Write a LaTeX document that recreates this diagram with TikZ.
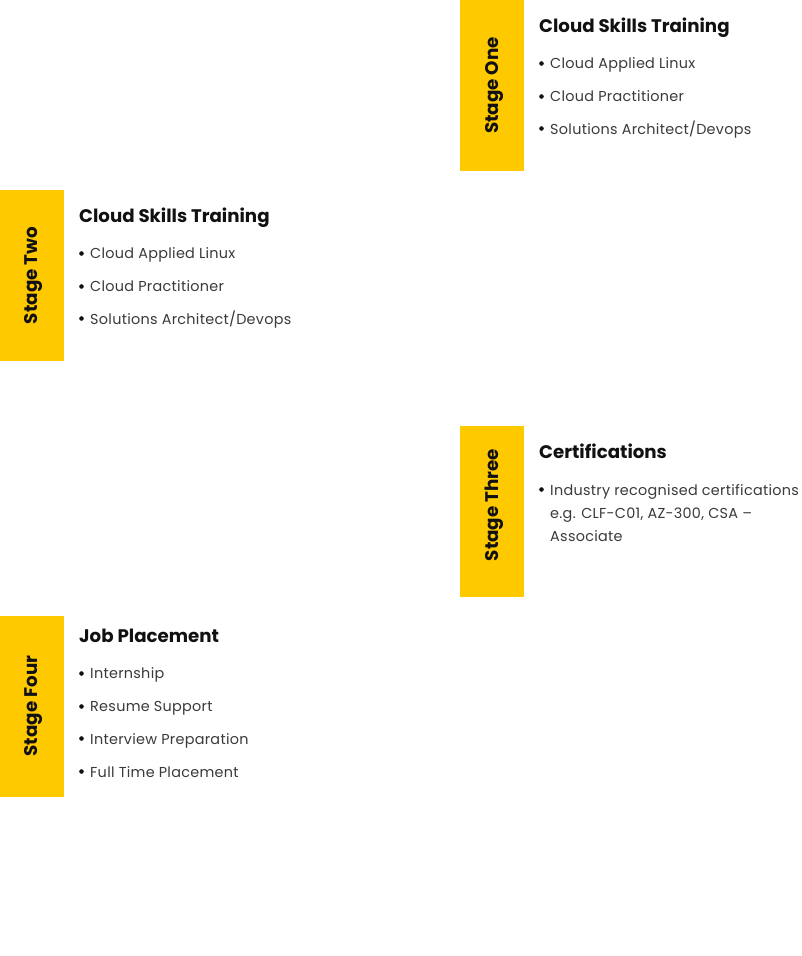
\documentclass[tikz,border=0pt]{standalone}
\usepackage{fontspec}
\setmainfont{Poppins}
\definecolor{stageyellow}{HTML}{FFC900}
\definecolor{titleblack}{HTML}{111111}
\definecolor{itemgray}{HTML}{3A3A3A}
\begin{document}
\begin{tikzpicture}[x=1pt,y=-1pt,
  bar/.style={fill=stageyellow,draw=none},
  stagelabel/.style={rotate=90,font=\fontsize{18.3}{20}\selectfont\bfseries,text=titleblack,inner sep=0pt},
  ttl/.style={anchor=base west,font=\fontsize{18.2}{22}\selectfont\bfseries,text=titleblack,inner sep=0pt},
  item/.style={anchor=base west,font=\fontsize{14.4}{23}\selectfont\addfontfeatures{LetterSpace=2},text=itemgray,inner sep=0pt,align=left},
  dot/.style={circle,fill=titleblack,inner sep=0pt,minimum size=4.6pt}]
\useasboundingbox[fill=white] (0,0) rectangle (802,956);
% Stage One
\fill[bar] (460,0) rectangle (524,171);
\node[stagelabel] (s1) at (494,85.5) {Stage One};
\node[ttl] (t1) at (539,32) {Cloud Skills Training};
\node[dot] (d11) at (541.5,63.5) {};
\node[item] (i11) at (550,68) {Cloud Applied Linux};
\node[dot] (d12) at (541.5,96.5) {};
\node[item] (i12) at (550,101) {Cloud Practitioner};
\node[dot] (d13) at (541.5,128.5) {};
\node[item] (i13) at (550,134) {Solutions Architect/Devops};
% Stage Two
\fill[bar] (0,190) rectangle (64,361);
\node[stagelabel] (s2) at (34,275.5) {Stage Two};
\node[ttl] (t2) at (79,222) {Cloud Skills Training};
\node[dot] (d21) at (81.5,253.5) {};
\node[item] (i21) at (90,258) {Cloud Applied Linux};
\node[dot] (d22) at (81.5,286.5) {};
\node[item] (i22) at (90,291) {Cloud Practitioner};
\node[dot] (d23) at (81.5,318.5) {};
\node[item] (i23) at (90,324) {Solutions Architect/Devops};
% Stage Three
\fill[bar] (460,426) rectangle (524,597);
\node[stagelabel] (s3) at (494,505) {Stage Three};
\node[ttl] (t3) at (539,458) {Certifications};
\node[dot] (d31) at (541.5,489.5) {};
\node[item,anchor=north west] (i31) at (550,484) {Industry recognised certifications\\e.g. CLF-C01, AZ-300, CSA –\\Associate};
% Stage Four
\fill[bar] (0,616) rectangle (64,797);
\node[stagelabel] (s4) at (34,706) {Stage Four};
\node[ttl] (t4) at (79,642) {Job Placement};
\node[dot] (d41) at (81.5,673.5) {};
\node[item] (i41) at (90,678) {Internship};
\node[dot] (d42) at (81.5,706.5) {};
\node[item] (i42) at (90,711) {Resume Support};
\node[dot] (d43) at (81.5,738.5) {};
\node[item] (i43) at (90,744) {Interview Preparation};
\node[dot] (d44) at (81.5,771.5) {};
\node[item] (i44) at (90,777) {Full Time Placement};
\end{tikzpicture}
\end{document}
